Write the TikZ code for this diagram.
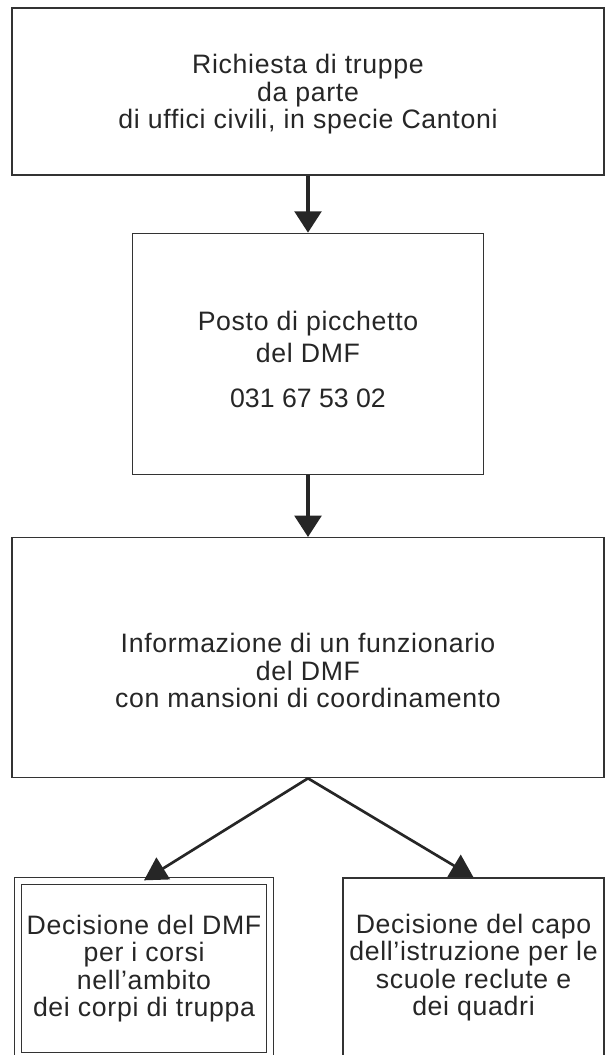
\documentclass[tikz,border=0pt]{standalone}
\usepackage{fontspec}
\setmainfont[LetterSpace=2.5]{Liberation Sans}
\usetikzlibrary{positioning,arrows.meta}

\begin{document}
\begin{tikzpicture}[x=0.75pt,y=-0.75pt,
   box/.style={draw=black!80,line width=1pt,inner sep=0pt},
   txt/.style={align=center,text=black!85,font=\fontsize{20}{20.5}\selectfont},
   flow/.style={draw=black!85,line width=2.6pt,-{Triangle[width=20pt,length=16pt]}},
   fork/.style={draw=black!85,line width=2pt,-{Triangle[width=19pt,length=17pt]}},
   node distance=42.75pt]
	\useasboundingbox (0,0) rectangle (606,1055);
	\node[box,minimum width=444pt,minimum height=125.25pt] (req) at (308,91.5) {};
	\node[txt] (reqtxt) at ([yshift=-2pt]req.center)
	  {Richiesta di truppe\\da parte\\di uffici civili, in specie Cantoni};
	\node[box,below=of req,minimum width=263.25pt,minimum height=180.75pt] (pik) {};
	\node[txt,font=\fontsize{20}{24}\selectfont] (piktxt) at ([yshift=-4pt]pik.center)
	  {Posto di picchetto\\del DMF\\[10pt]{\addfontfeatures{LetterSpace=0}031 67 53 02}};
	\node[box,below=46.5pt of pik,minimum width=444pt,minimum height=180pt] (coord) {};
	\node[txt] (coordtxt) at ([yshift=-9.75pt]coord.center)
	  {Informazione di un funzionario\\del DMF\\con mansioni di coordinamento};
	% the two decisions
	\node[box,txt,double,double distance=4.5pt,below=76.5pt of coord.south west,anchor=north west,
	  xshift=4.5pt,minimum width=189pt,minimum height=131.25pt] (dmf)
	  {Decisione del DMF\\per i corsi\\nell’ambito\\dei corpi di truppa};
	\node[box,txt,below=74.25pt of coord.south east,anchor=north east,
	  minimum width=195.75pt,minimum height=134.25pt] (capo)
	  {Decisione del capo\\dell’istruzione per le\\scuole reclute e\\dei quadri};
	\draw[flow] (req) -- (pik);
	\draw[flow] (pik) -- (coord);
	\draw[fork] (coord.south) -- (dmf.north);
	\draw[fork] (coord.south) -- (capo.north);
\end{tikzpicture}
\end{document}
